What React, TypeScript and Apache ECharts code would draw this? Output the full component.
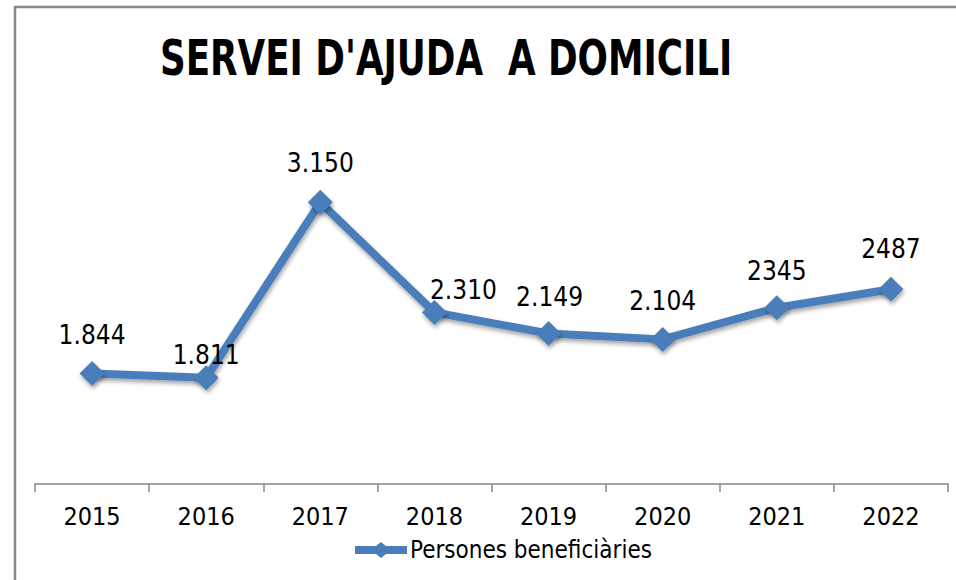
import React, { useEffect, useRef } from "react";
import * as echarts from "echarts";

const years = ["2015", "2016", "2017", "2018", "2019", "2020", "2021", "2022"];
const beneficiaries = [1844, 1811, 3150, 2310, 2149, 2104, 2345, 2487];
const valueLabels = ["1.844", "1.811", "3.150", "2.310", "2.149", "2.104", "2345", "2487"];
const labelOffsets: [number, number][] = [
  [0, 0], [0, 16], [0, -1], [29, 16], [1, 2], [0, 0], [0, 2], [0, -2],
];
const seriesName = "Persones beneficiàries";
const titleText = "SERVEI D'AJUDA  A DOMICILI";

const BLUE = "#4a7ebb";
const NARROW = "'DejaVu Sans Condensed', 'Liberation Sans', sans-serif";
const LEGEND_ICON =
  "path://M0,4 L21,4 L26,0 L31,4 L52,4 L52,12 L31,12 L26,16 L21,12 L0,12 Z";

export default function App() {
  const ref = useRef<HTMLDivElement>(null);
  useEffect(() => {
    document.body.style.margin = "0";
    const chart = echarts.init(ref.current!, null, { renderer: "svg" });
    const shadow = {
      shadowColor: "rgba(0,0,0,0.35)",
      shadowBlur: 4,
      shadowOffsetX: 1,
      shadowOffsetY: 3,
    };
    chart.setOption({
      animation: false,
      backgroundColor: "#ffffff",
      legend: {
        left: 350,
        top: 533,
        itemWidth: 52,
        itemHeight: 16,
        itemGap: 0,
        textStyle: { fontFamily: NARROW, fontSize: 24, color: "#000", padding: [0, 0, 0, -2] },
        data: [{ name: seriesName, icon: LEGEND_ICON }],
      },
      grid: { left: 35, right: 8, top: 91, bottom: 96, containLabel: false },
      xAxis: {
        type: "category",
        data: years,
        boundaryGap: true,
        axisLine: { lineStyle: { color: "#868686", width: 1.5 } },
        axisTick: { show: true, length: 8, lineStyle: { color: "#868686", width: 1.5 } },
        axisLabel: { fontFamily: NARROW, fontSize: 25, color: "#000", margin: 20 },
      },
      yAxis: {
        type: "value",
        min: 1000,
        max: 4000,
        show: false,
        splitLine: { show: false },
      },
      series: [
        {
          name: seriesName,
          type: "line",
          data: beneficiaries.map((v, i) => ({
            value: v,
            label: { offset: labelOffsets[i] },
          })),
          symbol: "diamond",
          symbolSize: 25,
          lineStyle: { color: BLUE, width: 8, ...shadow },
          itemStyle: { color: BLUE, ...shadow },
          label: {
            show: true,
            position: "top",
            distance: 13,
            fontFamily: NARROW,
            fontSize: 26,
            color: "#000",
            formatter: (p: any) => valueLabels[p.dataIndex],
          },
        },
      ],
      graphic: [
        {
          type: "polyline",
          shape: { points: [[15, 580], [15, 7], [956, 7]] },
          style: { stroke: "#8a8a8a", lineWidth: 2.5, fill: "none" },
          silent: true,
        },
        {
          type: "text",
          x: 160,
          y: 59,
          scaleX: 0.81,
          style: {
            text: titleText,
            fontFamily: NARROW,
            fontWeight: "bold",
            fontSize: 49,
            fill: "#000",
            textVerticalAlign: "middle",
            verticalAlign: "middle",
          },
          silent: true,
        },
      ],
    });
    return () => chart.dispose();
  }, []);
  return <div ref={ref} style={{ width: 956, height: 580 }} />;
}
